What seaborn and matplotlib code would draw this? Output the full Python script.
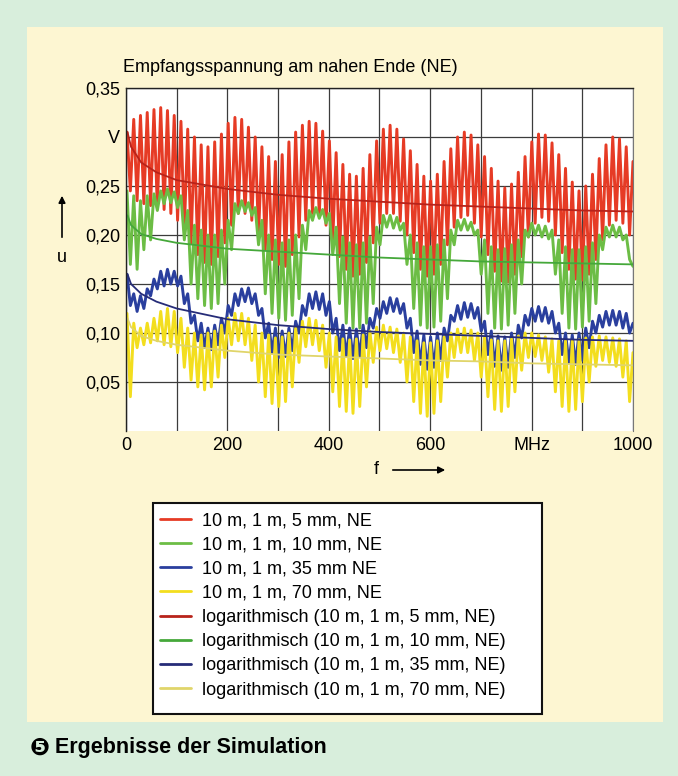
import numpy as np
import pandas as pd
import matplotlib.pyplot as plt
from matplotlib.patches import Rectangle, FancyArrowPatch
import seaborn as sns

# frequency grid in MHz: one point per half period of the ~13 MHz ripple
freq = np.linspace(2, 1000, 151)

# received voltage in mV (peak, trough, peak, ...)
u_5mm = [305, 245, 318, 235, 322, 232, 325, 230, 328, 228,
         330, 226, 327, 222, 322, 215, 316, 205, 308, 192,
         300, 180, 292, 172, 290, 170, 295, 178, 303, 192,
         314, 210, 320, 222, 318, 222, 310, 215, 300, 200,
         290, 185, 280, 175, 275, 170, 282, 168, 295, 180,
         305, 198, 312, 215, 316, 222, 314, 220, 306, 210,
         296, 195, 284, 178, 272, 165, 262, 158, 260, 160,
         268, 172, 282, 192, 296, 212, 308, 222, 312, 222,
         308, 214, 298, 200, 286, 182, 272, 165, 260, 158,
         255, 160, 262, 170, 275, 190, 288, 208, 300, 218,
         305, 220, 302, 212, 292, 198, 280, 180, 268, 163,
         255, 153, 248, 152, 252, 160, 264, 178, 280, 198,
         295, 212, 303, 218, 302, 214, 294, 200, 282, 182,
         268, 165, 254, 155, 245, 154, 250, 160, 262, 175,
         278, 195, 292, 210, 300, 215, 298, 212, 290, 200,
         275]
u_10mm = [245, 170, 240, 165, 235, 185, 240, 195, 242, 225,
          245, 232, 247, 233, 244, 228, 240, 195, 225, 150,
          210, 135, 205, 128, 200, 125, 200, 130, 205, 150,
          215, 185, 232, 222, 235, 224, 233, 220, 228, 190,
          215, 140, 200, 120, 195, 115, 192, 113, 195, 118,
          200, 135, 210, 185, 225, 215, 228, 217, 226, 212,
          222, 180, 208, 130, 198, 110, 192, 105, 190, 105,
          192, 110, 198, 130, 208, 190, 220, 208, 220, 207,
          218, 205, 212, 170, 200, 125, 192, 108, 188, 105,
          188, 106, 190, 112, 195, 135, 205, 190, 215, 205,
          216, 205, 213, 200, 205, 160, 195, 120, 188, 105,
          185, 104, 186, 108, 190, 120, 195, 150, 205, 198,
          212, 200, 210, 198, 209, 196, 205, 160, 195, 120,
          188, 105, 185, 104, 185, 106, 188, 112, 192, 130,
          200, 185, 208, 198, 210, 198, 208, 195, 200, 175,
          168]
u_35mm = [160, 128, 140, 122, 138, 125, 145, 138, 155, 145,
          163, 148, 165, 150, 163, 148, 158, 130, 140, 110,
          118, 92, 110, 85, 105, 83, 108, 88, 115, 100,
          128, 118, 140, 128, 145, 132, 146, 130, 140, 118,
          125, 95, 110, 80, 105, 75, 102, 76, 105, 82,
          112, 100, 128, 118, 140, 125, 142, 124, 140, 118,
          132, 100, 115, 82, 108, 76, 105, 74, 104, 76,
          108, 85, 115, 105, 125, 115, 132, 120, 136, 122,
          135, 120, 130, 105, 115, 80, 102, 68, 98, 63,
          96, 65, 100, 72, 105, 92, 118, 112, 128, 114,
          131, 116, 130, 115, 126, 102, 112, 78, 102, 66,
          97, 62, 96, 65, 100, 75, 108, 95, 118, 108,
          125, 112, 127, 112, 126, 110, 122, 100, 110, 78,
          100, 70, 98, 68, 100, 72, 105, 85, 112, 100,
          118, 106, 122, 108, 123, 108, 122, 105, 120, 100,
          110]
u_70mm = [120, 35, 110, 85, 105, 88, 110, 90, 115, 92,
          122, 88, 125, 86, 122, 80, 115, 65, 105, 52,
          100, 45, 98, 42, 100, 45, 102, 55, 108, 75,
          115, 88, 120, 92, 120, 88, 115, 72, 108, 50,
          100, 35, 98, 28, 95, 25, 96, 30, 100, 45,
          105, 70, 112, 86, 115, 88, 113, 82, 108, 65,
          100, 40, 96, 25, 94, 20, 93, 18, 94, 25,
          98, 45, 102, 70, 106, 82, 108, 84, 106, 80,
          104, 70, 100, 50, 96, 30, 92, 18, 90, 15,
          90, 18, 92, 30, 96, 55, 100, 75, 104, 80,
          105, 80, 103, 72, 100, 55, 96, 35, 93, 22,
          92, 20, 92, 25, 94, 40, 97, 62, 100, 75,
          100, 76, 98, 72, 96, 60, 94, 40, 92, 25,
          92, 20, 92, 22, 93, 30, 95, 50, 96, 66,
          97, 72, 96, 70, 95, 66, 94, 55, 92, 30,
          80]

# logarithmic trend lines (V)
log_freq = [3, 10, 30, 60, 100, 200, 300, 400, 500, 600, 700, 800, 900, 1000]
log_5mm = [0.305, 0.290, 0.274, 0.264, 0.256, 0.247, 0.241, 0.237, 0.234, 0.231, 0.229, 0.227, 0.225, 0.224]
log_10mm = [0.220, 0.210, 0.201, 0.196, 0.192, 0.186, 0.183, 0.180, 0.177, 0.175, 0.173, 0.172, 0.171, 0.170]
log_35mm = [0.160, 0.150, 0.140, 0.132, 0.125, 0.114, 0.108, 0.104, 0.101, 0.099, 0.097, 0.095, 0.093, 0.092]
log_70mm = [0.115, 0.106, 0.097, 0.092, 0.088, 0.082, 0.078, 0.076, 0.074, 0.072, 0.071, 0.069, 0.068, 0.067]

labels_osc = ['10 m, 1 m, 5 mm, NE', '10 m, 1 m, 10 mm, NE', '10 m, 1 m, 35 mm NE', '10 m, 1 m, 70 mm, NE']
labels_log = ['logarithmisch (10 m, 1 m, 5 mm, NE)', 'logarithmisch (10 m, 1 m, 10 mm, NE)',
              'logarithmisch (10 m, 1 m, 35 mm, NE)', 'logarithmisch (10 m, 1 m, 70 mm, NE)']
colors_osc = ['#e63b25', '#6cbd45', '#2a3f9e', '#f3de1e']
colors_log = ['#b8231a', '#45a83a', '#262c78', '#e0d56a']

sns.set_style("white")
plt.rcParams['font.family'] = ['Liberation Sans', 'DejaVu Sans']
plt.rcParams['text.color'] = 'black'
plt.rcParams['xtick.color'] = 'black'
plt.rcParams['ytick.color'] = 'black'

fig = plt.figure(figsize=(6.78, 7.76), dpi=100, facecolor='#d8eedc')
fig.add_artist(Rectangle((0.040, 0.0696), 0.938, 0.8956, transform=fig.transFigure,
                         facecolor='#fdf6d2', edgecolor='none', zorder=-10))

ax = fig.add_axes([0.1858, 0.4446, 0.7478, 0.442])
ax.set_facecolor('white')

for vals, name, c in zip([u_5mm, u_10mm, u_35mm, u_70mm], labels_osc, colors_osc):
    df = pd.DataFrame({'f': freq, 'u': np.array(vals) / 1000})
    sns.lineplot(data=df, x='f', y='u', ax=ax, color=c, lw=2.1, label=name,
                 sort=False, estimator=None)
for vals, name, c in zip([log_5mm, log_10mm, log_35mm, log_70mm], labels_log, colors_log):
    df = pd.DataFrame({'f': log_freq, 'u': vals})
    sns.lineplot(data=df, x='f', y='u', ax=ax, color=c, lw=1.3, label=name,
                 sort=False, estimator=None)

ax.set_xlim(0, 1000)
ax.set_ylim(0, 0.35)
ax.set_xticks(np.arange(0, 1001, 100))
ax.set_xticklabels(['0', '', '200', '', '400', '', '600', '', 'MHz', '', '1000'])
ax.set_yticks([0.05, 0.10, 0.15, 0.20, 0.25, 0.30, 0.35])
ax.set_yticklabels(['0,05', '0,10', '0,15', '0,20', '0,25', 'V', '0,35'])
ax.tick_params(length=0, labelsize=13, pad=4)
ax.set_xlabel('')
ax.set_ylabel('')
ax.grid(True, color='#3c3c3c', lw=0.9)
ax.set_axisbelow(True)
for s in ['left', 'top']:
    ax.spines[s].set_color('#222222')
    ax.spines[s].set_linewidth(1.0)
ax.spines['right'].set_color('#777777')
ax.spines['bottom'].set_visible(False)

handles, labels = ax.get_legend_handles_labels()
ax.get_legend().remove()

# legend box
fig.add_artist(Rectangle((153 / 678, 1 - 714 / 776), 389 / 678, 211 / 776, transform=fig.transFigure,
                         facecolor='white', edgecolor='#111111', lw=1.5, zorder=1))
leg = fig.legend(handles, labels, loc='upper left', bbox_to_anchor=(160 / 678, 1 - 512 / 776),
                 frameon=False, fontsize=13, handlelength=1.7, handletextpad=0.65,
                 labelspacing=0.40, borderpad=0, borderaxespad=0)
leg.set_zorder(2)
for h in leg.legend_handles:
    h.set_linewidth(2.0)

fig.text(123 / 678, 1 - 68 / 776, 'Empfangsspannung am nahen Ende (NE)', fontsize=13,
         ha='left', va='center')

fig.text(62 / 678, 1 - 258 / 776, 'u', fontsize=13, ha='center', va='center')
fig.add_artist(FancyArrowPatch((62 / 678, 1 - 240 / 776), (62 / 678, 1 - 193 / 776),
                               transform=fig.transFigure, arrowstyle='-|>',
                               mutation_scale=10, color='black', lw=1.2))
fig.text(376 / 678, 1 - 470 / 776, 'f', fontsize=13, ha='center', va='center')
fig.add_artist(FancyArrowPatch((390 / 678, 1 - 470 / 776), (448 / 678, 1 - 470 / 776),
                               transform=fig.transFigure, arrowstyle='-|>',
                               mutation_scale=10, color='black', lw=1.2))

fig.text(30 / 678, 1 - 748 / 776, '❺', fontsize=17, fontweight='bold', ha='left', va='center',
         family=['DejaVu Sans'])
fig.text(55 / 678, 1 - 748 / 776, 'Ergebnisse der Simulation', fontsize=15.5, fontweight='bold',
         ha='left', va='center')

fig.savefig('out.png', dpi=100, facecolor=fig.get_facecolor())
